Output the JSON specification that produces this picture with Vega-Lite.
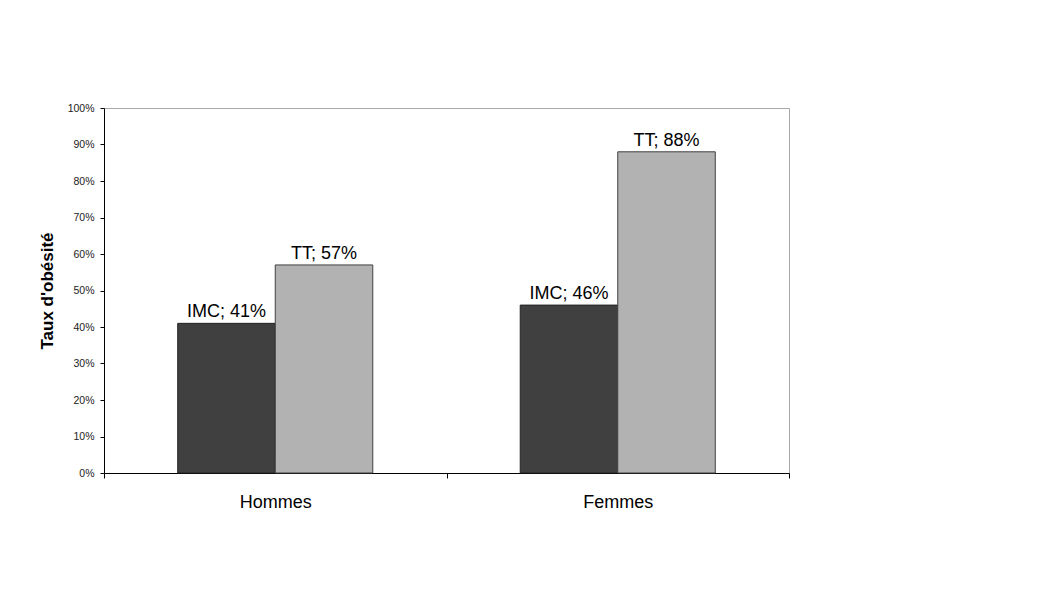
{
  "$schema": "https://vega.github.io/schema/vega-lite/v6.json",
  "autosize": "none",
  "width": 685,
  "height": 365,
  "padding": {"left": 104, "top": 108, "right": 263, "bottom": 118},
  "background": "white",
  "config": {
    "font": "Liberation Sans",
    "view": {"stroke": "#a8a8a8", "strokeWidth": 1},
    "axis": {"domainColor": "black", "tickColor": "black", "labelColor": "black", "titleColor": "black", "grid": false}
  },
  "data": {
    "values": [
      {"sexe": "Hommes", "mesure": "IMC", "taux": 0.41, "label": "IMC; 41%"},
      {"sexe": "Hommes", "mesure": "TT", "taux": 0.57, "label": "TT; 57%"},
      {"sexe": "Femmes", "mesure": "IMC", "taux": 0.46, "label": "IMC; 46%"},
      {"sexe": "Femmes", "mesure": "TT", "taux": 0.88, "label": "TT; 88%"}
    ]
  },
  "encoding": {
    "x": {
      "field": "sexe", "type": "nominal", "sort": null,
      "scale": {"paddingInner": 0, "paddingOuter": 0},
      "axis": {"title": null, "labelAngle": 0, "labelFontSize": 18, "labelPadding": 15, "tickSize": 5, "tickBand": "extent", "domainWidth": 1}
    },
    "xOffset": {"field": "mesure", "type": "nominal", "sort": ["IMC", "TT"], "scale": {"paddingInner": 0, "paddingOuter": 0.756}},
    "y": {
      "field": "taux", "type": "quantitative",
      "scale": {"domain": [0, 1]},
      "axis": {"title": "Taux d'obésité", "format": ".0%", "values": [0,0.1,0.2,0.3,0.4,0.5,0.6,0.7,0.8,0.9,1], "labelFontSize": 10.5, "labelColor": "#222222", "tickSize": 4, "labelPadding": 6, "titleFontSize": 17, "titleFontWeight": "bold", "titlePadding": 11}
    }
  },
  "layer": [
    {
      "mark": {"type": "bar", "strokeWidth": 1},
      "encoding": {
        "color": {"field": "mesure", "type": "nominal", "scale": {"domain": ["IMC", "TT"], "range": ["#404040", "#b2b2b2"]}, "legend": null},
        "stroke": {"field": "mesure", "type": "nominal", "scale": {"domain": ["IMC", "TT"], "range": ["#222222", "#404040"]}, "legend": null}
      }
    },
    {
      "mark": {"type": "text", "baseline": "bottom", "dy": -2, "fontSize": 18, "color": "black"},
      "encoding": {"text": {"field": "label"}}
    }
  ]
}
